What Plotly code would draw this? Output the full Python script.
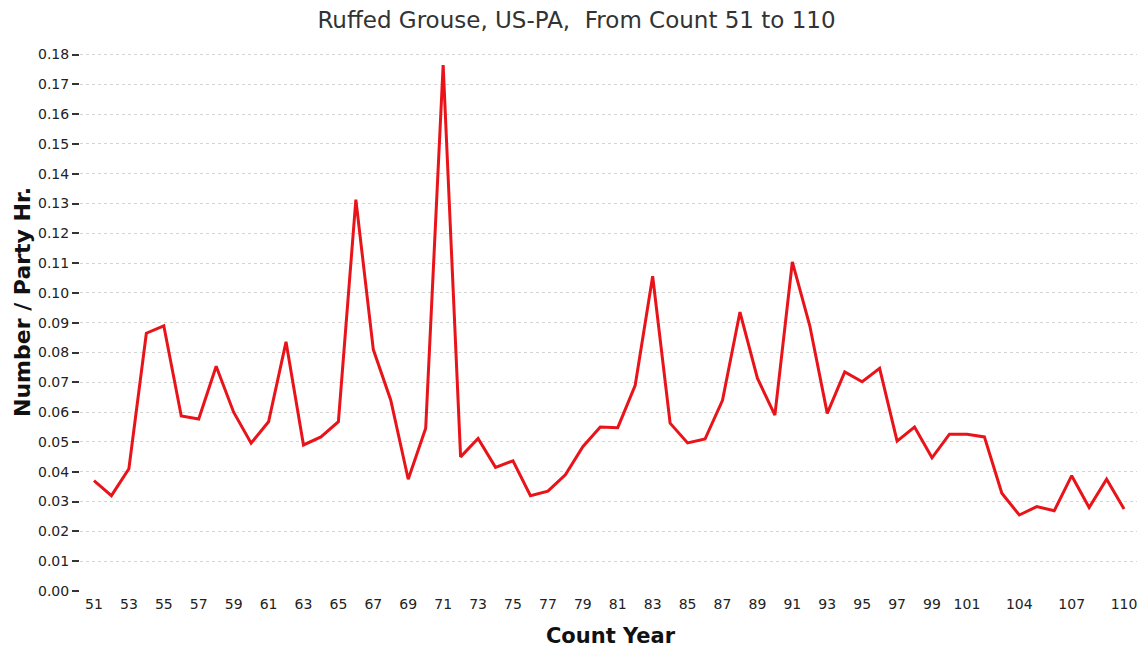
import plotly.graph_objects as go

years = [str(y) for y in range(51, 111)]
values = [
    0.037, 0.032, 0.041, 0.0865, 0.089, 0.0587, 0.0577, 0.0754, 0.060, 0.0496,
    0.0568, 0.0836, 0.049, 0.0517, 0.0568, 0.1313, 0.0810, 0.064, 0.0375, 0.0546,
    0.1765, 0.045, 0.0512, 0.0415, 0.0437, 0.032, 0.0335, 0.039, 0.0484, 0.055,
    0.0548, 0.069, 0.1056, 0.0563, 0.0497, 0.051, 0.064, 0.0936, 0.0714, 0.059,
    0.1104, 0.089, 0.0596, 0.0735, 0.0702, 0.0747, 0.0503, 0.055, 0.0447, 0.0526,
    0.0526, 0.0517, 0.0328, 0.0255, 0.0283, 0.0269, 0.0387, 0.028, 0.0375, 0.0275,
]
tick_labels = [str(y) for y in range(51, 102, 2)] + ["104", "107", "110"]
y_ticks = [round(i * 0.01, 2) for i in range(19)]

FONT = "DejaVu Sans, Arial, sans-serif"

fig = go.Figure(
    go.Scatter(
        x=years, y=values, mode="lines",
        line=dict(color="#e8141a", width=3),
        hoverinfo="x+y",
    )
)

# page body has an 8px default margin, so the figure is sized to fit inside
W, H = 1137, 643
fig.update_layout(
    width=W, height=H,
    margin=dict(l=72, r=4, t=37, b=60),
    paper_bgcolor="white", plot_bgcolor="white",
    showlegend=False,
    title=dict(
        text="Ruffed Grouse, US-PA,  From Count 51 to 110",
        x=0.5, xanchor="center", y=1 - 12 / H, yanchor="middle",
        font=dict(family=FONT, size=23, color="#333333"),
    ),
    font=dict(family=FONT, color="#222222"),
)

fig.add_annotation(
    text="<b>Number / Party Hr.</b>", textangle=-90,
    xref="paper", yref="paper",
    x=-(72 - 14) / (W - 76), xanchor="center",
    y=1 - (294 - 37) / (H - 97), yanchor="middle",
    showarrow=False, font=dict(family=FONT, size=22, color="#111111"),
)

fig.update_xaxes(
    type="category",
    range=[-0.8, 59.97],
    tickmode="array", tickvals=tick_labels, ticktext=tick_labels,
    tickfont=dict(size=14, color="#222222"),
    ticklabelstandoff=3,
    ticks="", showgrid=False, showline=False, zeroline=False, automargin=False,
    title=dict(text="<b>Count Year</b>", font=dict(size=21, color="#111111"), standoff=17),
)

fig.update_yaxes(
    range=[0, 0.1832],
    tickmode="array", tickvals=y_ticks, ticktext=[f"{v:.2f}" for v in y_ticks],
    tickfont=dict(size=14, color="#222222"),
    ticks="outside", ticklen=7, tickcolor="#333333", tickwidth=1.5,
    showgrid=True, gridcolor="#d4d4d4", griddash="3px,3px", gridwidth=1,
    showline=False, zeroline=False, automargin=False,
)

fig.write_html("out.html")
